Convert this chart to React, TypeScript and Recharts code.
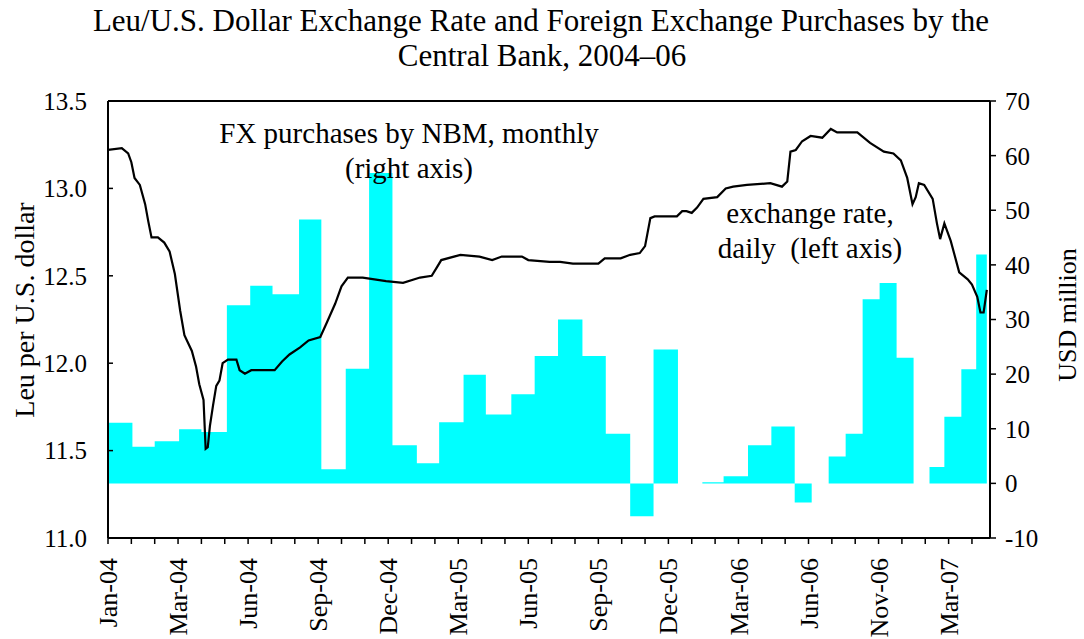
import React from 'react'
import { ComposedChart, Area, Line, XAxis, YAxis, ReferenceLine } from 'recharts'

const FONT = '"Liberation Serif", "Times New Roman", serif'

// FX purchases by NBM, monthly, USD million (Jan-04 .. May-07)
const months = [
  'Jan-04', 'Feb-04', 'Mar-04', 'Apr-04', 'May-04', 'Jun-04', 'Jul-04', 'Aug-04', 'Sep-04', 'Oct-04', 'Nov-04', 'Dec-04',
  'Jan-05', 'Feb-05', 'Mar-05', 'Apr-05', 'May-05', 'Jun-05', 'Jul-05', 'Aug-05', 'Sep-05', 'Oct-05', 'Nov-05', 'Dec-05',
  'Jan-06', 'Feb-06', 'Mar-06', 'Apr-06', 'May-06', 'Jun-06', 'Jul-06', 'Aug-06', 'Sep-06', 'Oct-06', 'Nov-06', 'Dec-06',
  'Jan-07', 'Feb-07', 'Mar-07', 'Apr-07', 'May-07',
]
const fxPurchases = [
  11.1, 6.7, 7.7, 9.9, 9.4, 32.6, 36.2, 34.6, 48.3, 2.6, 21.0, 56.8,
  7.0, 3.7, 11.2, 19.9, 12.6, 16.3, 23.3, 30.0, 23.3, 9.1, -6.0, 24.5,
  0, 0.2, 1.3, 7.0, 10.4, -3.5, 0, 4.9, 9.1, 33.7, 36.7, 23.0,
  0, 3.0, 12.2, 20.9, 41.9,
]
// first daily observation of each month on the daily series axis
const monthStartObs = [
  0, 23, 44, 67, 88, 112, 134, 155, 180, 201, 224, 246,
  268, 291, 312, 335, 356, 380, 402, 424, 447, 469, 492, 514,
  537, 560, 580, 603, 625, 647, 663, 679, 695, 711, 727, 743,
  759, 774, 788, 804, 818,
]
const lastObs = 828

// Leu per U.S. dollar, daily
const rateObs = [
  0, 13, 19, 22, 25, 30, 35, 38, 41, 47, 53, 58, 63, 68, 72, 79, 83, 86, 90, 92,
  94, 96, 99, 102, 105, 108, 113, 121, 124, 129, 135, 157, 164, 171, 181, 189, 200, 206, 214, 220,
  226, 240, 262, 278, 294, 305, 310, 314, 332, 350, 362, 371, 390, 396, 416, 426, 438, 453, 462, 468,
  483, 492, 501, 506, 511, 515, 536, 541, 545, 550, 555, 561, 574, 582, 589, 602, 624, 635, 640, 643,
  648, 654, 662, 673, 681, 687, 696, 706, 718, 731, 740, 747, 753, 758, 761, 764, 769, 777, 781, 784,
  788, 794, 802, 810, 814, 819, 822, 825, 828,
]
const rate = [
  13.22, 13.23, 13.2, 13.15, 13.06, 13.02, 12.91, 12.81, 12.72, 12.72, 12.69, 12.64, 12.51, 12.3, 12.16, 12.07, 11.98, 11.88, 11.79, 11.51,
  11.52, 11.64, 11.76, 11.87, 11.9, 12.0, 12.02, 12.02, 11.96, 11.94, 11.96, 11.96, 12.01, 12.05, 12.09, 12.13, 12.15, 12.23, 12.34, 12.44,
  12.49, 12.49, 12.47, 12.46, 12.49, 12.5, 12.55, 12.59, 12.62, 12.61, 12.59, 12.61, 12.61, 12.59, 12.58, 12.58, 12.57, 12.57, 12.57, 12.6,
  12.6, 12.62, 12.63, 12.67, 12.83, 12.84, 12.84, 12.87, 12.87, 12.86, 12.89, 12.94, 12.95, 13.0, 13.01, 13.02, 13.03, 13.01, 13.04, 13.21,
  13.22, 13.27, 13.3, 13.29, 13.34, 13.32, 13.32, 13.32, 13.26, 13.21, 13.2, 13.16, 13.06, 12.91, 12.95, 13.03, 13.02, 12.94, 12.8, 12.71,
  12.8, 12.7, 12.52, 12.48, 12.45, 12.38, 12.29, 12.29, 12.42,
]

const tickStep = 22
const xTicks = Array.from({ length: 38 }, (_, i) => i * tickStep)
const xTickLabels = ['Jan-04', 'Mar-04', 'Jun-04', 'Sep-04', 'Dec-04', 'Mar-05', 'Jun-05', 'Sep-05', 'Dec-05', 'Mar-06', 'Jun-06', 'Nov-06', 'Mar-07']
const leftTicks = [11.0, 11.5, 12.0, 12.5, 13.0, 13.5]
const rightTicks = [-10, 0, 10, 20, 30, 40, 50, 60, 70]

const fxData = months
  .map((m, i) => ({ month: m, obs: monthStartObs[i], fx: fxPurchases[i] }))
  .concat([{ month: 'end', obs: lastObs, fx: fxPurchases[fxPurchases.length - 1] }])
const rateData = rateObs.map((obs, i) => ({ obs, rate: rate[i] }))

const renderXTick = (props: any) => {
  const { x, y, payload } = props
  const idx = Math.round(payload.value / tickStep)
  if (idx % 3 !== 0 || !xTickLabels[idx / 3]) return <g />
  return (
    <text x={x} y={y} transform={`rotate(-90, ${x}, ${y})`} textAnchor="end" dy="0.35em"
      fontSize={26} fontFamily={FONT} fill="#000">
      {xTickLabels[idx / 3]}
    </text>
  )
}

const tickStyle = { fill: '#000', fontSize: 25, fontFamily: FONT }
const axisStyle = { stroke: '#000', strokeWidth: 2 }

export default function App() {
  return (
    <div style={{ position: 'absolute', left: 0, top: 0, width: 1084, height: 639, background: '#fff' }}>
      <ComposedChart width={1084} height={639} margin={{ top: 101, right: 0, bottom: 0, left: 0 }}>
        <XAxis xAxisId="d" type="number" dataKey="obs" domain={[0, 831]} ticks={xTicks} interval={0}
          allowDataOverflow height={101} tickSize={6} tickMargin={14}
          axisLine={axisStyle} tickLine={{ stroke: '#000', strokeWidth: 1.5 }} tick={renderXTick} />
        <YAxis yAxisId="left" orientation="left" width={108} domain={[11, 13.5]} ticks={leftTicks}
          allowDataOverflow tickFormatter={(v: number) => v.toFixed(1)} tickSize={-5} tickMargin={26}
          axisLine={axisStyle} tickLine={{ stroke: '#000', strokeWidth: 1.5 }} tick={tickStyle} />
        <YAxis yAxisId="right" orientation="right" width={94} domain={[-10, 70]} ticks={rightTicks}
          allowDataOverflow tickSize={6} tickMargin={9}
          axisLine={axisStyle} tickLine={{ stroke: '#000', strokeWidth: 1.5 }} tick={tickStyle} />
        <Area xAxisId="d" yAxisId="right" data={fxData} dataKey="fx" type="stepAfter" stroke="none"
          fill="#00FFFF" fillOpacity={1} baseValue={0} isAnimationActive={false} />
        <Line xAxisId="d" yAxisId="left" data={rateData} dataKey="rate" type="linear" stroke="#000"
          strokeWidth={2.2} dot={false} isAnimationActive={false} />
        <ReferenceLine xAxisId="d" yAxisId="left" y={13.5} stroke="#000" strokeWidth={2} />
      </ComposedChart>
      <svg width={1084} height={639} style={{ position: 'absolute', left: 0, top: 0, pointerEvents: 'none' }}
        fontFamily={FONT} fill="#000">
        <text x={541} y={31} textAnchor="middle" fontSize={31}>
          Leu/U.S. Dollar Exchange Rate and Foreign Exchange Purchases by the
        </text>
        <text x={542} y={66} textAnchor="middle" fontSize={31}>Central Bank, 2004–06</text>
        <text x={409} y={143} textAnchor="middle" fontSize={29}>FX purchases by NBM, monthly</text>
        <text x={409} y={178} textAnchor="middle" fontSize={29}>(right axis)</text>
        <text x={810} y={223} textAnchor="middle" fontSize={29}>exchange rate,</text>
        <text x={810} y={258} textAnchor="middle" fontSize={29} style={{ whiteSpace: 'pre' }}>daily  (left axis)</text>
        <text x={34} y={310} textAnchor="middle" fontSize={28} transform="rotate(-90, 34, 310)">Leu per U.S. dollar</text>
        <text x={1076} y={315} textAnchor="middle" fontSize={26} transform="rotate(-90, 1076, 315)">USD million</text>
      </svg>
    </div>
  )
}
